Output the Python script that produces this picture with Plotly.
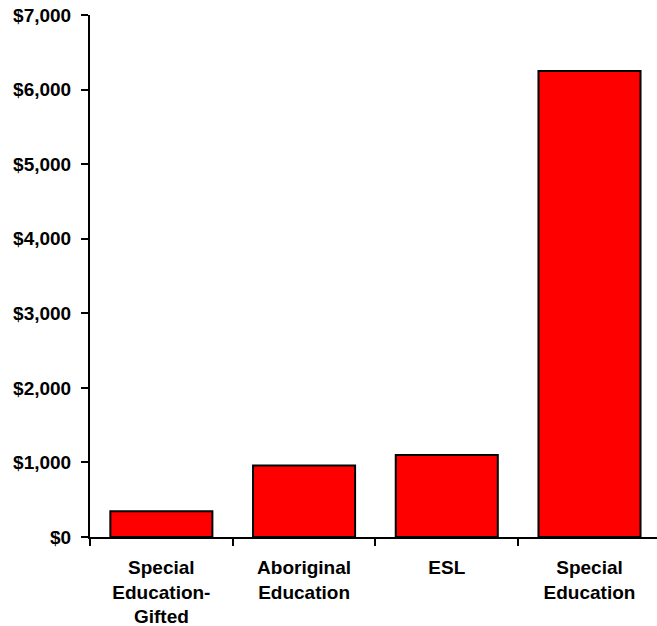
import plotly.graph_objects as go

categories = ["Special<br>Education-<br>Gifted", "Aboriginal<br>Education", "ESL", "Special<br>Education"]
values = [345, 960, 1100, 6250]
y_ticks = [0, 1000, 2000, 3000, 4000, 5000, 6000, 7000]
y_tick_text = ["$" + format(v, ",d") for v in y_ticks]

font_family = "Liberation Sans, Arial, sans-serif"

fig = go.Figure(
    go.Bar(
        x=categories,
        y=values,
        width=0.715,
        marker=dict(color="#FF0000", line=dict(color="black", width=2)),
    )
)

fig.update_layout(
    width=657,
    height=626,
    margin=dict(l=90, r=0, t=15, b=89),
    paper_bgcolor="white",
    plot_bgcolor="white",
    showlegend=False,
)

fig.update_xaxes(
    type="category",
    range=[-0.5, 3.473],
    showline=True,
    linecolor="black",
    linewidth=2,
    ticks="outside",
    tickson="boundaries",
    ticklen=7,
    tickwidth=2,
    tickcolor="black",
    ticklabelstandoff=12,
    showgrid=False,
    zeroline=False,
    tickfont=dict(family=font_family, size=19, color="black", weight="bold"),
)

fig.update_yaxes(
    range=[0, 7000],
    tickvals=y_ticks,
    ticktext=y_tick_text,
    showline=True,
    linecolor="black",
    linewidth=2,
    ticks="outside",
    ticklen=7,
    tickwidth=2,
    tickcolor="black",
    ticklabelstandoff=6,
    showgrid=False,
    zeroline=False,
    tickfont=dict(family=font_family, size=19, color="black", weight="bold"),
)

fig.write_html("out.html")
